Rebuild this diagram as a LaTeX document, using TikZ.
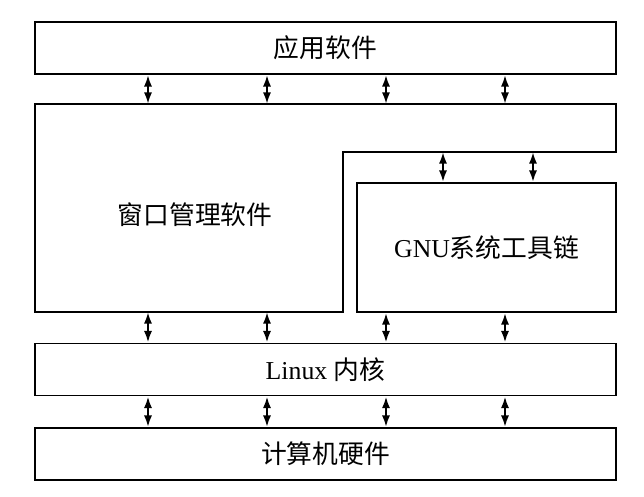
\documentclass[tikz,border=0pt]{standalone}
\usepackage{fontspec}
\setmainfont{Liberation Serif}
\newfontfamily\cjk{Noto Sans CJK SC}
\usetikzlibrary{arrows.meta}

\begin{document}
\begin{tikzpicture}[x=0.03cm, y=-0.03cm, line width=1.6pt,
	capa/.style={draw, minimum width=17.43cm, minimum height=1.56cm, inner sep=0pt, font=\fontsize{22}{24}\selectfont},
	flecha/.style={{Latex[length=10pt,width=7pt]}-{Latex[length=10pt,width=7pt]}, line width=1.8pt}]

\useasboundingbox (0,0) rectangle (644,496);

% Capas horizontales
\node[capa] (app) at (325.5,48) {{\cjk 应用软件}};
\node[capa] (kernel) at (325.5,369.5) {Linux {\cjk 内核}};
\node[capa] (hw) at (325.5,454) {{\cjk 计算机硬件}};

% Ventanas (forma en L) y GNU
\draw (35,104) coordinate (wmnw) -- (616,104) -- (616,152) -- (343,152) coordinate (wmstep)
	-- (343,312) -- (35,312) coordinate (wmsw) -- cycle;
\node[font=\fontsize{22}{24}\selectfont] (wm) at (195,215) {{\cjk 窗口管理软件}};
\node[draw, minimum width=7.77cm, minimum height=3.87cm, inner sep=0pt, font=\fontsize{22}{24}\selectfont] (gnu) at (486.5,247.5) {GNU{\cjk 系统工具链}};

% Flechas
\foreach \x in {148, 267, 386, 505} {
	\draw[flecha] (app.south -| \x,0) -- (wmnw -| \x,0);
	\draw[flecha] (kernel.south -| \x,0) -- (hw.north -| \x,0);
}
\foreach \x in {148, 267}
	\draw[flecha] (wmsw -| \x,0) -- (kernel.north -| \x,0);
\foreach \x in {386, 505}
	\draw[flecha] (gnu.south -| \x,0) -- (kernel.north -| \x,0);
\foreach \x in {443, 533}
	\draw[flecha] (wmstep -| \x,0) -- (gnu.north -| \x,0);
\end{tikzpicture}
\end{document}
